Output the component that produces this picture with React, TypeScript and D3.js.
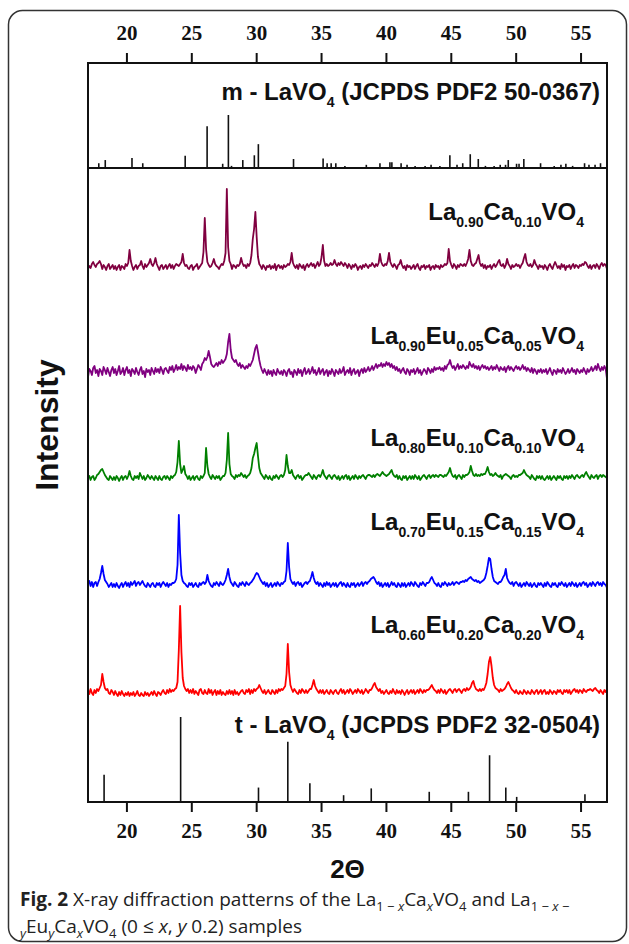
import React from "react";
import * as d3 from "d3";

// ---------- data ----------
const X_DOMAIN: [number, number] = [17, 57];
const X_TICKS = [20, 25, 30, 35, 40, 45, 50, 55];
const TWO_THETA_START = 17.0;
const TWO_THETA_STEP = 0.1;

// m-LaVO4 reference (JCPDS PDF2 50-0367): position (2θ) and relative intensity
const M_LAVO4_POS = [17.83, 18.33, 20.39, 21.22, 24.49, 26.18, 27.38, 27.82, 28.06, 28.93, 29.82, 30.13, 32.84, 35.12, 35.43, 35.74, 36.1, 36.8, 38.45, 39.5, 40.27, 40.42, 41.13, 41.59, 42.21, 42.98, 43.44, 44.12, 44.89, 45.44, 45.88, 46.46, 47.08, 47.63, 48.3, 48.77, 49.18, 49.39, 50.03, 50.22, 50.59, 51.88, 52.93, 53.45, 53.83, 54.35, 55.27, 55.61, 56.08, 56.5];
const M_LAVO4_INT = [9, 15, 19, 9, 23, 79, 8, 100, 4, 15, 24, 45, 17, 18, 9, 9, 9, 4, 6, 9, 11, 11, 9, 6, 4, 4, 6, 4, 24, 6, 9, 26, 17, 4, 4, 6, 6, 15, 8, 8, 17, 9, 4, 6, 8, 4, 9, 6, 6, 9];

// t-LaVO4 reference (JCPDS PDF2 32-0504)
const T_LAVO4_POS = [18.24, 24.14, 30.14, 32.4, 34.1, 36.7, 38.83, 43.3, 46.32, 47.95, 49.2, 50.04, 55.3];
const T_LAVO4_INT = [32, 100, 17, 71, 22, 8, 16, 12, 12, 55, 17, 6, 9];

// measured patterns, 2θ = 17.0 ... 57.0 step 0.1
const LA090_CA010 = [
  -2, 1, -1, 3, 5, 2, 0, 3, 4, 6,
  3, -2, 2, 0, -3, 1, 3, -2, 0, 2,
  -2, 1, -3, 0, 2, -3, 1, 0, -2, 3,
  1, 4, 17, 6, 1, -3, 0, 2, -2, 1,
  2, 6, 1, -2, 3, 0, 2, 4, 8, 3,
  1, 4, 9, 3, 0, -3, 1, 2, -2, 0,
  2, -2, 1, 3, -1, 2, -2, 1, 3, 2,
  1, 3, 5, 13, 4, 1, 2, -1, -2, 1,
  2, -3, 0, 1, 3, -2, 0, 2, 4, 15,
  49, 18, 5, 2, 0, 1, 4, 8, 3, 1,
  0, -2, 1, 3, 2, 6, 14, 78, 20, 6,
  3, -2, 2, 1, -1, 2, 1, 3, 9, 4,
  1, 2, -1, 3, 1, 4, 12, 28, 38, 55,
  30, 10, 3, 1, -2, 2, 0, -3, 1, 0,
  2, -2, 1, -1, 3, -3, 1, 2, -1, 1,
  -2, 2, 0, 1, 3, 2, 5, 14, 4, 1,
  -1, 2, -2, 3, 1, -1, 2, -3, 1, 3,
  0, 2, 4, 1, 3, -1, 2, 5, 1, 3,
  10, 22, 6, 1, 3, 1, 2, 4, 2, 3,
  7, 3, 1, 4, 2, 5, 3, 1, 4, 2,
  -1, 3, 1, -2, 2, 0, 3, 1, -3, 0,
  1, -2, 2, 0, 3, 1, -1, 2, 1, 4,
  2, 0, 3, 1, 4, 13, 5, 2, 1, 3,
  2, 6, 14, 5, 2, 0, 3, 1, -2, 2,
  3, 7, 2, -1, 1, -3, 2, 0, 1, -2,
  0, 2, -2, 1, 3, -1, -3, 1, 0, 2,
  -2, 1, 0, 2, -3, 0, 1, -2, 2, 0,
  1, -2, 2, 0, 1, 3, 2, 4, 18, 6,
  2, -1, 3, 1, -2, 2, 0, 3, 2, 1,
  3, 1, 4, 8, 17, 6, 2, 1, 3, 4,
  8, 12, 4, 1, 3, -1, 2, -2, 1, 0,
  2, -2, 1, 3, 0, 2, 5, 7, 2, 1,
  3, -1, 2, 8, 3, 1, -2, 2, 0, 1,
  3, 1, 2, -1, 2, 4, 9, 13, 5, 2,
  1, 3, 0, 2, 7, 3, 1, -2, 2, 0,
  1, -2, 2, 0, -3, 1, 3, 0, -2, 2,
  5, 2, -1, 1, -2, 3, 0, 2, -3, 1,
  0, 2, -2, 1, 3, -1, 2, 1, -1, 2,
  1, 3, 2, 5, 4, 1, -1, 2, -2, 1,
  2, -1, 3, 1, -2, 2, 4, 1, 3, 2,
  -2,
];

const LA090_EU005_CA005 = [
  -5, 3, 1, -3, 4, 6, -1, 2, -4, 3,
  1, -3, 5, 2, -2, 4, 0, -4, 2, 5,
  -1, 3, -3, 1, 6, -2, 0, 4, -3, 2,
  5, -1, 2, -4, 3, 1, -2, 4, 0, -3,
  2, 5, -2, 1, -5, 3, 0, 2, -3, 4,
  1, -2, 4, 0, 3, -1, 5, 2, -2, 3,
  4, 1, -1, 5, 2, 6, 0, 3, 7, 2,
  5, 3, 8, 2, 6, 4, 1, 7, 3, 5,
  2, 6, 4, -1, 3, 7, 5, 2, 8, 10,
  14, 12, 15, 21, 15, 8, 6, 5, 7, 9,
  6, 10, 8, 12, 9, 11, 13, 18, 30, 38,
  22, 14, 12, 10, 12, 8, 6, 9, 4, 7,
  5, 3, 6, 4, 8, 6, 9, 12, 18, 24,
  27, 20, 12, 6, 2, -1, 3, 0, -3, 2,
  -2, 1, -4, 2, -1, -3, 3, 0, -2, 1,
  -3, 2, 0, -4, 1, 3, -2, 0, -5, 2,
  0, -3, 3, -1, 2, -4, 1, 4, -2, 0,
  3, -2, 1, 5, -1, 2, -3, 0, 4, -2,
  1, 3, -3, 0, 2, -4, 1, -2, 3, 0,
  -4, 2, 0, -2, 3, -1, 1, 5, -3, 0,
  2, -1, 4, -3, 1, 3, -2, 0, 2, -4,
  1, 3, -1, 4, 0, 2, 5, 1, 3, 6,
  2, 5, 8, 4, 7, 6, 9, 5, 8, 6,
  10, 7, 9, 5, 8, 4, 6, 2, 5, 1,
  3, -1, 2, 4, 0, -2, 3, 1, -3, 2,
  0, 3, -2, 1, 4, -1, 2, -3, 0, 3,
  1, -2, 4, 2, -1, 3, 0, 5, 2, 4,
  3, 5, 2, 4, 1, 6, 3, 7, 8, 12,
  7, 4, 6, 2, 5, 8, 3, 6, 4, 7,
  5, 3, 6, 4, 10, 7, 5, 8, 4, 6,
  3, 6, 2, 5, 7, 4, 6, 3, 5, 2,
  4, 6, 2, 5, 3, 7, 4, 1, 5, 3,
  2, 5, 0, 4, 6, 2, 5, 3, 1, 4,
  6, 3, 5, 2, 4, 7, 3, 5, 1, 4,
  2, 0, 4, -1, 3, 1, -2, 2, 0, 3,
  -1, 2, 0, 3, -2, 1, 4, 0, -3, 2,
  1, -2, 3, 0, 2, -1, 4, 1, -2, 0,
  3, -1, 1, 4, 0, 2, -2, 3, 1, -1,
  2, 0, 4, 1, -2, 3, 0, 2, 5, 1,
  3, 6, 2, 8, 4, 1, 5, 2, 6, 3,
  -7,
];

const LA080_EU010_CA010 = [
  0, 2, -2, 1, 2, -2, 0, 3, 4, 6,
  8, 9, 6, 3, 1, -1, -2, 2, 0, -2,
  1, -2, 2, 0, -3, 0, 2, -2, 1, 2,
  -1, 2, 7, 2, -1, -2, 2, 0, 2, -1,
  5, 2, -1, 2, -2, 0, 3, 1, -1, 2,
  0, -2, 2, 0, -2, 2, -1, -2, 1, 2,
  -1, 2, 0, -2, 2, 0, 2, 3, 6, 16,
  37, 14, 5, 8, 12, 4, 2, -1, 2, -2,
  0, 2, -2, 1, 2, -1, -2, 2, 0, 2,
  5, 30, 12, 4, 1, -1, 3, 1, -1, 2,
  0, 2, -2, 0, 2, 2, 5, 18, 45, 14,
  4, 2, 1, -1, 3, 1, 3, 2, 5, 3,
  1, 3, 0, 2, 3, 5, 10, 20, 24, 30,
  35, 22, 10, 5, 3, 1, -1, 3, 1, -1,
  2, -1, -2, 2, 0, 3, 1, -1, 2, 3,
  1, 3, 8, 23, 12, 5, 5, 8, 3, 1,
  -1, 2, 3, 0, 2, -2, 0, 2, 3, 3,
  5, 3, 1, -1, 3, 1, -1, 2, 3, 1,
  4, 8, 3, 1, -1, 2, 3, 1, -1, 2,
  3, 1, -1, 2, -2, 0, 2, -1, 2, 3,
  -1, 2, -2, 0, 2, -1, 3, 1, -1, 2,
  0, 2, 3, 1, -1, 2, 3, 3, 2, 1,
  3, 1, 3, 4, 3, 2, 4, 6, 4, 3,
  2, 3, 4, 6, 8, 4, 2, 1, 3, -1,
  2, -1, -2, 2, 0, 2, -2, 0, 2, -1,
  2, -1, 3, 1, -1, 2, -2, 0, 2, 3,
  1, -1, 2, 3, 0, 2, 3, 1, 3, 2,
  1, 3, 3, 2, 1, 3, 2, 4, 6, 10,
  5, 2, 1, 3, -1, 2, 3, 1, -1, 3,
  1, 3, 3, 4, 6, 12, 7, 3, 2, 4,
  2, 3, 2, 4, 3, 4, 4, 7, 11, 6,
  3, 4, 2, 3, 5, 3, 2, 1, 3, -1,
  2, 3, 4, 3, 2, 1, -1, 2, 3, 1,
  2, 1, 3, 3, 4, 5, 8, 5, 3, 2,
  1, -1, 3, 1, -1, -2, 2, 0, 2, -1,
  2, -1, -2, 0, 2, -1, 2, -2, 0, 2,
  0, -2, 2, 0, 2, -1, -2, 2, 0, 2,
  -1, 2, 0, 3, 1, -1, 2, 3, 1, 0,
  2, 3, 1, 4, 6, 3, 1, -1, 3, 1,
  0, 2, 3, -1, 2, 3, 1, 3, 2, 1,
  0,
];

const LA070_EU015_CA015 = [
  2, 4, -1, 3, -2, 2, 3, -1, 3, 6,
  12, 19, 11, 5, 3, 1, -2, 0, 2, -2,
  1, -2, 2, -1, -3, 0, 2, -2, 1, 3,
  -1, 2, -2, 3, 0, 2, 4, -1, 2, 3,
  0, 2, 4, 1, -1, -2, 2, 0, -2, 1,
  2, -1, -2, 2, 0, 2, -2, 1, 3, 1,
  -1, 2, -2, 1, 0, 2, 2, 3, 6, 20,
  70, 32, 10, 4, 2, 1, -1, -2, 2, 0,
  2, -2, 0, 2, -1, -2, 2, 0, 2, 3,
  1, 3, 10, 4, 1, -1, -2, 2, 0, 3,
  1, -1, 3, 1, 0, 2, 5, 10, 16, 8,
  3, 1, -1, 3, 1, -1, -2, 2, 0, 3,
  1, -1, 3, 1, 0, 2, 3, 5, 7, 10,
  12, 11, 8, 5, 3, 1, 3, -1, 2, -2,
  0, 2, -2, 0, 2, -1, 3, 1, -1, 2,
  1, 3, 4, 14, 42, 18, 6, 3, 1, 3,
  -1, 2, 3, 0, 2, -2, 0, 2, 3, 1,
  3, 4, 8, 13, 7, 3, 1, 3, -1, 2,
  0, -2, 2, -1, 3, 0, 2, -2, 0, 2,
  -1, 2, -2, 0, 2, 3, -1, 2, 0, -2,
  2, -1, -2, 2, 0, 2, -2, 0, 2, -1,
  1, 3, -1, 2, 3, 1, 3, 4, 6, 7,
  8, 6, 3, 1, 3, -1, 2, -2, 0, 2,
  -1, 2, -2, 0, 3, 0, 2, -1, -2, 2,
  0, -2, 2, -1, 2, -2, 0, 2, -1, 3,
  1, -1, 3, 1, -1, -2, 2, 0, 3, 1,
  -1, 2, 2, 3, 6, 8, 5, 2, 1, -1,
  2, -1, -2, 2, 0, 3, 1, -1, 2, 0,
  1, 3, 0, 2, 3, 2, 1, 3, 3, 4,
  3, 5, 4, 6, 7, 8, 6, 5, 4, 5,
  3, 4, 2, 3, 4, 5, 7, 12, 19, 27,
  26, 16, 8, 4, 3, 2, 1, 3, 3, 5,
  8, 10, 16, 7, 4, 2, 1, 3, -1, 2,
  3, 1, -1, 2, -2, 0, 2, -1, 3, 1,
  -1, 2, -2, 0, 2, -1, -2, 2, 0, 2,
  0, -2, 2, -1, 3, 1, -1, -2, 2, 0,
  2, -1, -2, 2, 0, 3, 1, -1, 2, -2,
  0, 2, -1, 3, 1, -1, 2, -2, 0, 2,
  -1, 2, 3, 0, 2, -2, 0, 2, -1, 3,
  1, -1, 2, 3, 0, 2, -1, 3, 1, 0,
  -3,
];

const LA060_EU020_CA020 = [
  2, -2, 3, -1, -3, 2, -1, 3, 1, 4,
  7, 18, 10, 4, 2, 3, -1, -2, 2, 0,
  -3, 1, -2, -4, 0, -3, 1, -2, -4, -1,
  -3, 0, -4, -1, -3, 0, -4, -2, 1, -3,
  -4, -1, -3, -4, 0, -3, -1, -4, -2, 0,
  -3, 1, -2, -4, 0, -1, -3, 0, 2, -1,
  -2, 2, -1, 3, 0, 2, 1, 3, 4, 10,
  42, 86, 40, 14, 6, 3, 1, 3, -1, 2,
  -1, 3, -2, 1, -1, -3, 2, 3, -1, -2,
  2, -1, -2, 3, -1, 2, -3, 0, 2, -3,
  1, -2, 2, -3, 0, -2, -3, 1, -2, 2,
  -2, 1, -3, 2, -2, 0, -3, -1, 1, 2,
  -1, -2, 2, 0, 3, -2, 2, -1, 3, 1,
  3, 4, 7, 4, 1, -1, 2, -2, 0, 2,
  -1, -2, 2, 0, -2, 2, -1, 3, 1, 3,
  2, 4, 6, 18, 48, 20, 7, 3, 0, 3,
  1, -1, -2, 2, -1, 3, 1, -1, 2, -1,
  1, 3, 3, 7, 12, 6, 3, 1, -1, 2,
  -1, 2, -2, 0, 2, -1, -2, 2, 0, -2,
  1, 2, -1, -2, 1, 3, -1, 2, -2, 0,
  2, -1, 3, 1, -2, 0, 2, -1, 3, 1,
  -1, 2, -2, 0, 3, 1, -1, 2, 2, 4,
  7, 9, 5, 3, 1, 3, -1, 1, -2, 0,
  2, -1, -2, 1, -1, 3, 0, -2, 2, -1,
  1, -2, 2, 0, -3, 0, 2, -2, 0, 2,
  -1, 2, -2, 0, 2, -1, 3, 1, -1, 2,
  0, 2, 2, 3, 5, 7, 4, 2, 1, -1,
  2, -1, 3, 1, -1, 2, -2, 0, 2, 3,
  1, -1, 2, 3, 0, 2, 3, 1, -1, 2,
  3, 1, 4, 2, 3, 5, 9, 11, 6, 3,
  2, 1, 3, 1, 3, 2, 5, 9, 18, 30,
  35, 26, 14, 7, 4, 3, 2, 0, 3, 1,
  2, 3, 5, 8, 10, 7, 4, 2, 1, -1,
  2, -1, -2, 1, -1, -2, 2, 0, -2, 1,
  -1, -2, 2, 0, -2, 1, 2, -2, 0, 2,
  -2, 1, 2, -2, 0, -2, 2, 0, -2, 1,
  0, -2, 2, 0, 2, -1, -2, 2, 0, 2,
  -1, 2, -2, 0, 2, 3, 0, 2, -1, 2,
  1, -1, 3, 1, 0, 2, 2, 3, 2, 1,
  3, 4, 2, 1, -1, 2, 0, -2, 2, 0,
  3,
];

const SAMPLE_COLORS = ["#800040", "#800080", "#008000", "#0000FF", "#FF0000"];

// ---------- layout ----------
const W = 629;
const H = 944;
const PLOT = { left: 88, right: 607, top: 63, bottom: 802 };
const REF_SEPARATOR_Y = 168;
const TRACE_BASELINES = [267, 372, 478, 585, 692];
const SANS = "Liberation Sans, Arial, Helvetica, sans-serif";
const SERIF = "Liberation Serif, Times New Roman, DejaVu Serif, serif";
const CAPTION_FONT = "Open Sans, Noto Sans, sans-serif";

type Part = { t: string; sub?: boolean };

function Formula({ x, y, parts, size, subSize, subDy }: { x: number; y: number; parts: Part[]; size: number; subSize: number; subDy: number }) {
  let cur = 0;
  return (
    <text x={x} y={y} textAnchor="end" style={{ fontFamily: SANS, fontWeight: "bold" }} fontSize={size} fill="#111">
      {parts.map((p, i) => {
        const target = p.sub ? subDy : 0;
        const dy = target - cur;
        cur = target;
        return (
          <tspan key={i} dy={dy} fontSize={p.sub ? subSize : size}>
            {p.t}
          </tspan>
        );
      })}
    </text>
  );
}

const SAMPLE_LABELS: Part[][] = [
  [{ t: "La" }, { t: "0.90", sub: true }, { t: "Ca" }, { t: "0.10", sub: true }, { t: "VO" }, { t: "4", sub: true }],
  [{ t: "La" }, { t: "0.90", sub: true }, { t: "Eu" }, { t: "0.05", sub: true }, { t: "Ca" }, { t: "0.05", sub: true }, { t: "VO" }, { t: "4", sub: true }],
  [{ t: "La" }, { t: "0.80", sub: true }, { t: "Eu" }, { t: "0.10", sub: true }, { t: "Ca" }, { t: "0.10", sub: true }, { t: "VO" }, { t: "4", sub: true }],
  [{ t: "La" }, { t: "0.70", sub: true }, { t: "Eu" }, { t: "0.15", sub: true }, { t: "Ca" }, { t: "0.15", sub: true }, { t: "VO" }, { t: "4", sub: true }],
  [{ t: "La" }, { t: "0.60", sub: true }, { t: "Eu" }, { t: "0.20", sub: true }, { t: "Ca" }, { t: "0.20", sub: true }, { t: "VO" }, { t: "4", sub: true }],
];
const SAMPLE_LABEL_Y = [220, 344, 446, 530, 633];

const M_LABEL: Part[] = [{ t: "m - LaVO" }, { t: "4", sub: true }, { t: " (JCPDS PDF2 50-0367)" }];
const T_LABEL: Part[] = [{ t: "t - LaVO" }, { t: "4", sub: true }, { t: " (JCPDS PDF2 32-0504)" }];

export default function App() {
  const x = d3.scaleLinear().domain(X_DOMAIN).range([PLOT.left, PLOT.right]);
  const yTop = d3.scaleLinear().domain([0, 100]).range([REF_SEPARATOR_Y, REF_SEPARATOR_Y - 53]);
  const yBot = d3.scaleLinear().domain([0, 100]).range([PLOT.bottom, PLOT.bottom - 85]);
  const series = [LA090_CA010, LA090_EU005_CA005, LA080_EU010_CA010, LA070_EU015_CA015, LA060_EU020_CA020];

  const paths = series.map((vals, k) => {
    const base = TRACE_BASELINES[k];
    const y = d3.scaleLinear().domain([0, 100]).range([base, base - 100]);
    const line = d3
      .line<number>()
      .x((_, i) => x(TWO_THETA_START + i * TWO_THETA_STEP))
      .y((d) => y(d));
    return line(vals) as string;
  });

  const SUB = 13;
  const sub = (s: string, italic = false) => (
    <tspan fontSize={SUB} dy={5} fontStyle={italic ? "italic" : "normal"}>{s}</tspan>
  );

  return (
    <svg width={W} height={H} style={{ position: "absolute", left: 0, top: 0, background: "#fff" }}>
      <rect x={8.5} y={10.5} width={618} height={931} rx={14} ry={14} fill="none" stroke="#333" strokeWidth={1.5} />

      {/* reference sticks */}
      {M_LAVO4_POS.map((p, i) => (
        <line key={"m" + i} x1={x(p)} x2={x(p)} y1={yTop(0)} y2={yTop(M_LAVO4_INT[i])} stroke="#111" strokeWidth={1.6} />
      ))}
      {T_LAVO4_POS.map((p, i) => (
        <line key={"t" + i} x1={x(p)} x2={x(p)} y1={yBot(0)} y2={yBot(T_LAVO4_INT[i])} stroke="#111" strokeWidth={1.6} />
      ))}

      {/* measured traces */}
      {paths.map((d, k) => (
        <path key={k} d={d} fill="none" stroke={SAMPLE_COLORS[k]} strokeWidth={1.8} strokeLinejoin="round" />
      ))}

      {/* frame */}
      <rect x={PLOT.left} y={PLOT.top} width={PLOT.right - PLOT.left} height={PLOT.bottom - PLOT.top} fill="none" stroke="#111" strokeWidth={2} />
      <line x1={PLOT.left} x2={PLOT.right} y1={REF_SEPARATOR_Y} y2={REF_SEPARATOR_Y} stroke="#111" strokeWidth={2} />

      {/* ticks */}
      {X_TICKS.map((t) => (
        <g key={t}>
          <line x1={x(t)} x2={x(t)} y1={PLOT.top} y2={PLOT.top - 10} stroke="#111" strokeWidth={2} />
          <line x1={x(t)} x2={x(t)} y1={PLOT.bottom} y2={PLOT.bottom + 10} stroke="#111" strokeWidth={2} />
          <text x={x(t)} y={40} textAnchor="middle" style={{ fontFamily: SERIF, fontWeight: "bold" }} fontSize={21} fill="#111">{t}</text>
          <text x={x(t)} y={838} textAnchor="middle" style={{ fontFamily: SERIF, fontWeight: "bold" }} fontSize={21} fill="#111">{t}</text>
        </g>
      ))}

      {/* labels */}
      <Formula x={600} y={100} parts={M_LABEL} size={24} subSize={14} subDy={7} />
      <Formula x={600} y={733} parts={T_LABEL} size={24} subSize={14} subDy={7} />
      {SAMPLE_LABELS.map((parts, k) => (
        <Formula key={k} x={584} y={SAMPLE_LABEL_Y[k]} parts={parts} size={24} subSize={14} subDy={7} />
      ))}

      <text transform="translate(58,425) rotate(-90)" textAnchor="middle" style={{ fontFamily: SANS, fontWeight: "bold" }} fontSize={32} fill="#111">Intensity</text>
      <text x={(PLOT.left + PLOT.right) / 2} y={878} textAnchor="middle" style={{ fontFamily: SANS, fontWeight: "bold" }} fontSize={26} fill="#111">2Θ</text>

      {/* caption */}
      <text x={20} y={906} style={{ fontFamily: CAPTION_FONT }} fontSize={19} fill="#222">
        <tspan fontWeight="bold">Fig. 2</tspan>
        <tspan> X-ray diffraction patterns of the La</tspan>
        {sub("1 − ")}<tspan fontSize={SUB} fontStyle="italic">x</tspan>
        <tspan dy={-5}>Ca</tspan>
        {sub("x", true)}
        <tspan dy={-5}>VO</tspan>
        {sub("4")}
        <tspan dy={-5}> and La</tspan>
        {sub("1 − ")}<tspan fontSize={SUB} fontStyle="italic">x</tspan><tspan fontSize={SUB}> −</tspan>
      </text>
      <text x={20} y={933} style={{ fontFamily: CAPTION_FONT }} fontSize={19} fill="#222">
        {sub("y", true)}
        <tspan dy={-5}>Eu</tspan>
        {sub("y", true)}
        <tspan dy={-5}>Ca</tspan>
        {sub("x", true)}
        <tspan dy={-5}>VO</tspan>
        {sub("4")}
        <tspan dy={-5}> (0 ≤ </tspan>
        <tspan fontStyle="italic">x</tspan>
        <tspan>, </tspan>
        <tspan fontStyle="italic">y</tspan>
        <tspan> 0.2) samples</tspan>
      </text>
    </svg>
  );
}
